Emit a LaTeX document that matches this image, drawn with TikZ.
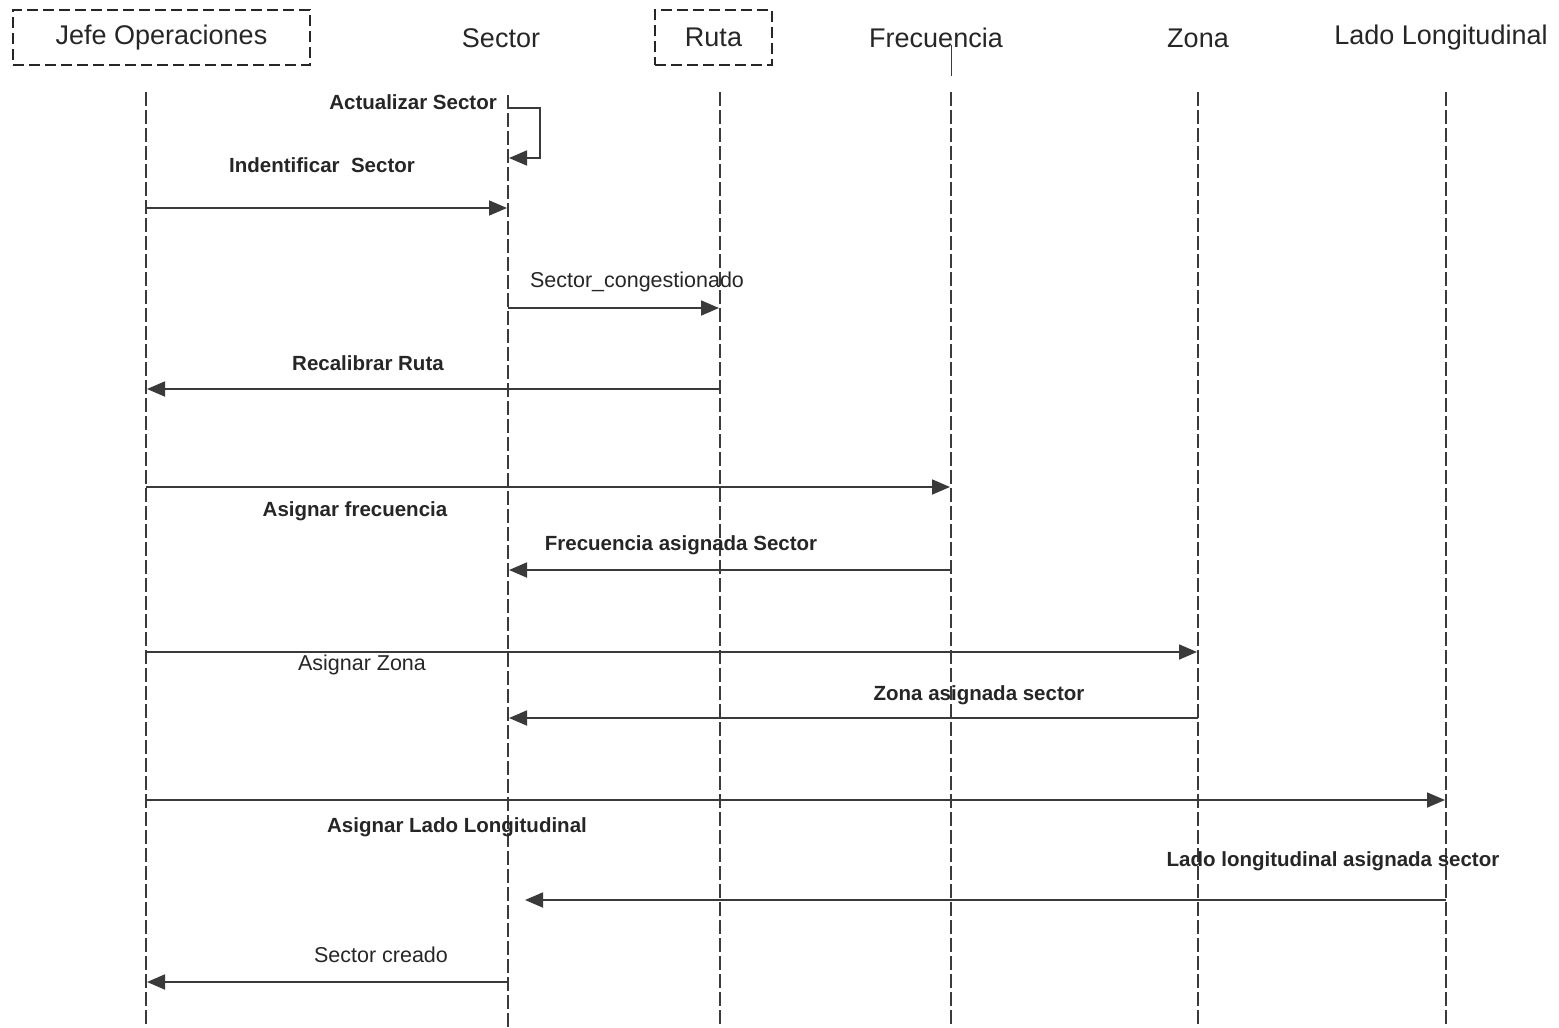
\documentclass[tikz,border=0pt]{standalone}
\usepackage{fontspec}
\setmainfont{Liberation Sans}
\usetikzlibrary{arrows.meta}
\definecolor{ink}{HTML}{262626}
\definecolor{wire}{HTML}{3A3A3A}
\begin{document}
\begin{tikzpicture}[x=1pt,y=-1pt,
  head/.style={text=ink,font=\fontsize{27}{32}\selectfont,inner sep=0pt},
  headbox/.style={draw=ink,line width=2.2pt,dash pattern=on 11pt off 5pt,
    minimum height=55pt},
  lifeline/.style={draw=wire,line width=1.5pt,dash pattern=on 14pt off 4pt},
  msg/.style={draw=wire,line width=1.8pt,
    -{Triangle[length=18pt,width=15pt]}},
  lbl/.style={text=ink,font=\fontsize{20.5}{24}\selectfont\bfseries,inner sep=0pt},
  lblr/.style={text=ink,font=\fontsize{21.5}{25}\selectfont,inner sep=0pt}]
\useasboundingbox (0,0) rectangle (1559,1028);

% participants
\node[head,headbox,minimum width=297pt] (hjefe) at (161.5,37.5) {Jefe Operaciones};
\node[head] (hsector) at (501,38) {Sector};
\node[head,headbox,minimum width=117pt] (hruta) at (713.5,37.5) {Ruta};
\node[head] (hfrec) at (936,38) {Frecuencia};
\node[head] (hzona) at (1198,38) {Zona};
\node[head] (hlado) at (1441,38) {Lado Longitudinal};

% lifelines
\coordinate (jt) at (146,92);  \coordinate (jb) at (146,1028);
\coordinate (st) at (508,95);  \coordinate (sb) at (508,1028);
\coordinate (rt) at (720,92);  \coordinate (rb) at (720,1028);
\coordinate (ft) at (951,92);  \coordinate (fb) at (951,1028);
\coordinate (zt) at (1198,92); \coordinate (zb) at (1198,1028);
\coordinate (lt) at (1446,92); \coordinate (lb) at (1446,1028);
\foreach \a/\b in {jt/jb,st/sb,rt/rb,ft/fb,zt/zb,lt/lb}
  \draw[lifeline] (\a) -- (\b);
\coordinate (fs1) at (951,45); \coordinate (fs2) at (951,76);
\draw[wire,line width=1pt] (fs1) -- (fs2);

% self call on Sector
\coordinate (u0) at (508,108);
\coordinate (u1) at (540,108);
\coordinate (u2) at (540,158);
\coordinate (u3) at (509,158);
\draw[msg] (u0) -- (u1) -- (u2) -- (u3);
\node[lbl,anchor=east] (l0) at (497,102) {Actualizar Sector};

% messages
\coordinate (a1) at (146,208);  \coordinate (b1) at (507,208);
\draw[msg] (a1) -- (b1);
\node[lbl] (l1) at (322,165) {Indentificar\ \ Sector};

\coordinate (a2) at (508,308);  \coordinate (b2) at (719,308);
\draw[msg] (a2) -- (b2);
\node[lblr] (l2) at (637,282) {Sector\_congestionado};

\coordinate (a3) at (720,389);  \coordinate (b3) at (147,389);
\draw[msg] (a3) -- (b3);
\node[lbl] (l3) at (368,363) {Recalibrar Ruta};

\coordinate (a4) at (146,487);  \coordinate (b4) at (950,487);
\draw[msg] (a4) -- (b4);
\node[lbl] (l4) at (355,511) {Asignar frecuencia};

\coordinate (a5) at (951,570);  \coordinate (b5) at (509,570);
\draw[msg] (a5) -- (b5);
\node[lbl] (l5) at (681,545) {Frecuencia asignada Sector};

\coordinate (a6) at (146,652);  \coordinate (b6) at (1197,652);
\draw[msg] (a6) -- (b6);
\node[lblr] (l6) at (362,665) {Asignar Zona};

\coordinate (a7) at (1198,718); \coordinate (b7) at (509,718);
\draw[msg] (a7) -- (b7);
\node[lbl] (l7) at (979,695) {Zona asignada sector};

\coordinate (a8) at (146,800);  \coordinate (b8) at (1445,800);
\draw[msg] (a8) -- (b8);
\node[lbl] (l8) at (457,827) {Asignar Lado Longitudinal};

\coordinate (a9) at (1446,900); \coordinate (b9) at (525,900);
\draw[msg] (a9) -- (b9);
\node[lbl] (l9) at (1333,861) {Lado longitudinal asignada sector};

\coordinate (a10) at (507,982); \coordinate (b10) at (147,982);
\draw[msg] (a10) -- (b10);
\node[lblr] (l10) at (381,955) {Sector creado};
\end{tikzpicture}
\end{document}
